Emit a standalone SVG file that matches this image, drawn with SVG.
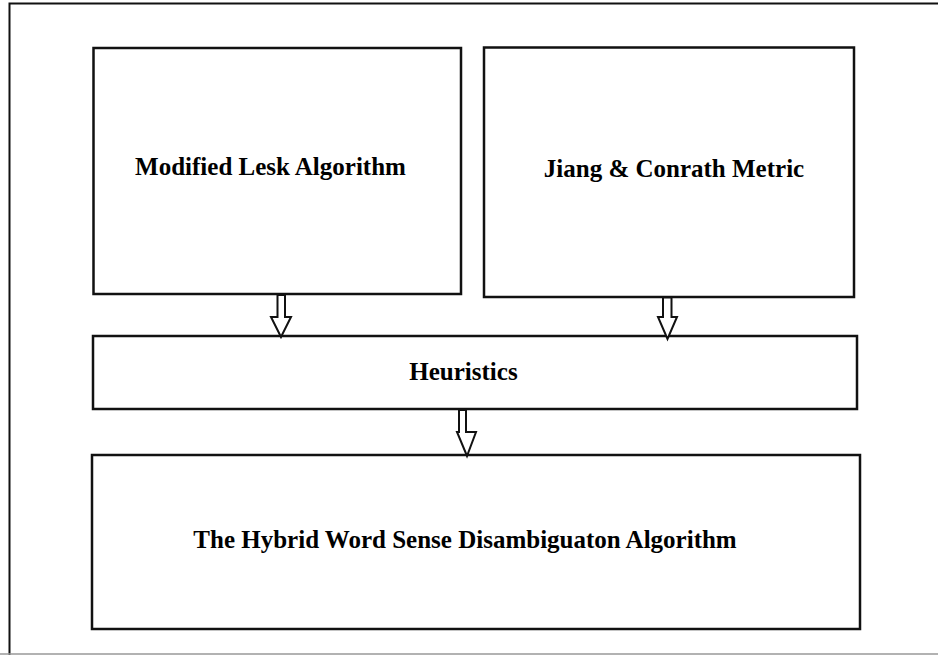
<svg xmlns="http://www.w3.org/2000/svg" width="938" height="655" viewBox="0 0 938 655">
<style>
.box{fill:#fff;stroke:#111;stroke-width:2.5}
.arr{fill:#fff;stroke:#111;stroke-width:2;stroke-linejoin:miter}
.t{font-family:"Liberation Serif","Times New Roman",serif;font-weight:bold;font-size:25px;fill:#000;text-anchor:middle}
</style>
<rect width="938" height="655" fill="#fff"/>
<path d="M9.5 656 V3.5 H940" fill="none" stroke="#111" stroke-width="2"/>
<line x1="0" y1="654" x2="938" y2="654" stroke="#999" stroke-width="1.5"/>
<g id="lesk"><rect class="box" x="93.5" y="48" width="367.5" height="246"/><text class="t" x="270.5" y="175">Modified Lesk Algorithm</text></g>
<g id="jiang"><rect class="box" x="484" y="47.5" width="370" height="249.5"/><text class="t" x="674" y="177">Jiang &amp; Conrath Metric</text></g>
<g id="heuristics"><rect class="box" x="93" y="336" width="764" height="73"/><text class="t" x="463.5" y="380">Heuristics</text></g>
<g id="hybrid"><rect class="box" x="92" y="455" width="768" height="174"/><text class="t" x="465" y="548">The Hybrid Word Sense Disambiguaton Algorithm</text></g>
<g id="connectors">
<path class="arr" d="M277.5 295 V317 H271 L281 337 L291 317 H285 V295 Z"/>
<path class="arr" d="M663 297.5 V317 H658 L667.5 339 L677 317 H671.5 V297.5 Z"/>
<path class="arr" d="M459 410 V432 H457 L467 456 L476 432 H466 V410 Z"/>
</g>
</svg>
